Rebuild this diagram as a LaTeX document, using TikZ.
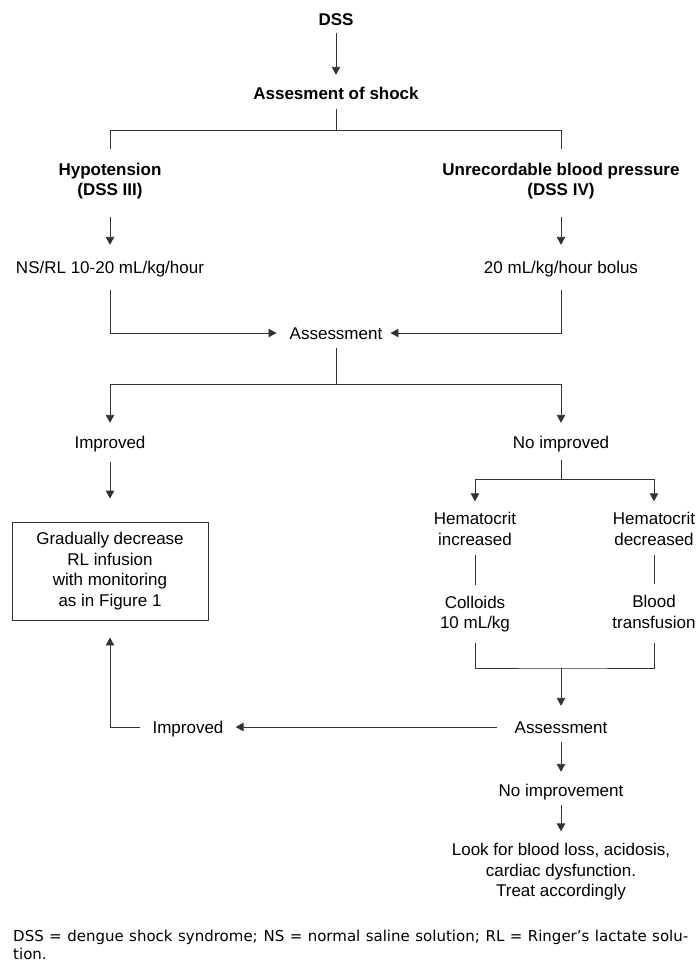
\documentclass[tikz,border=0pt]{standalone}
\usepackage{fontspec}
\setmainfont{Liberation Sans}
\newfontfamily\notefont{DejaVu Sans}
\usetikzlibrary{arrows.meta}

\begin{document}
\begin{tikzpicture}[
    x=1pt, y=-1pt,
    txt/.style={inner sep=0pt, text height=12pt, text depth=0pt, font=\fontsize{17}{20.5}\selectfont},
    btxt/.style={txt, font=\fontsize{17}{20.5}\selectfont\bfseries},
    multi/.style={inner sep=0pt, align=center, font=\fontsize{17}{20.5}\selectfont},
    bmulti/.style={multi, font=\fontsize{17}{20.5}\selectfont\bfseries},
    boxed/.style={multi, draw=black!80, line width=0.9pt, minimum width=196pt, minimum height=98pt},
    line/.style={draw=black!80, line width=0.9pt},
    arr/.style={line, -{Triangle[length=8pt, width=8.5pt]}}
]
    % Define columns
    \def\colL{110}
    \def\colM{336}
    \def\colR{561}

    \useasboundingbox (0,0) rectangle (698,962);

    % Shock assessment
    \node[btxt] (dss) at (\colM,19) {DSS};
    \node[btxt] (shock) at (\colM,93) {Assesment of shock};
    \node[bmulti] (hypo) at (\colL,181) {Hypotension\\(DSS III)};
    \node[bmulti] (unrec) at (\colR,181) {Unrecordable blood pressure\\(DSS IV)};
    \node[txt] (ns) at (\colL,267) {NS/RL 10-20 mL/kg/hour};
    \node[txt] (bolus) at (\colR,267) {20 mL/kg/hour bolus};
    \node[txt] (assess1) at (\colM,333) {Assessment};

    % Response
    \node[txt] (impr1) at (\colL,442) {Improved};
    \node[txt] (noimpr) at (\colR,442) {No improved};
    \node[boxed] (box) at (\colL,571) {Gradually decrease\\RL infusion\\with monitoring\\as in Figure 1};
    \node[multi] (hup) at (475,529) {Hematocrit\\increased};
    \node[multi] (hdown) at (654,529) {Hematocrit\\decreased};
    \node[multi] (coll) at (475,614) {Colloids\\10 mL/kg};
    \node[multi] (blood) at (654,612) {Blood\\transfusion};
    \node[txt] (assess2) at (\colR,727) {Assessment};
    \node[txt] (impr2) at (188,727) {Improved};
    \node[txt] (noimpt) at (\colR,790) {No improvement};
    \node[multi] (look) at (\colR,872) {Look for blood loss, acidosis,\\cardiac dysfunction.\\Treat accordingly};

    % Branch points
    \coordinate (fork1) at (\colM,130);
    \coordinate (fork2) at (\colM,384);
    \coordinate (fork3) at (\colR,479);
    \coordinate (fork4) at (\colR,668);

    % Connectors
    \draw[arr, shorten <=8pt, shorten >=12pt] (dss) -- (shock);
    \draw[line, shorten <=10pt, shorten >=14pt] (shock) -- (fork1) -| (hypo);
    \draw[line, shorten >=14pt] (fork1) -| (unrec);
    \draw[arr, shorten <=18pt, shorten >=16pt] (hypo) -- (ns);
    \draw[arr, shorten <=18pt, shorten >=16pt] (unrec) -- (bolus);
    \draw[arr, shorten <=17pt, shorten >=13pt] (ns) |- (assess1);
    \draw[arr, shorten <=17pt, shorten >=8pt] (bolus) |- (assess1);
    \draw[line, shorten <=9pt] (assess1) -- (fork2);
    \draw[arr, shorten >=13pt] (fork2) -| (impr1);
    \draw[arr, shorten >=13pt] (fork2) -| (noimpr);
    \draw[arr, shorten <=14pt, shorten >=23pt] (impr1) -- (box);
    \draw[line, shorten <=12pt] (noimpr) -- (fork3);
    \draw[arr, shorten >=11pt] (fork3) -| (hup);
    \draw[arr, shorten >=11pt] (fork3) -| (hdown);
    \draw[line, shorten <=9.5pt, shorten >=11pt] (hup) -- (coll);
    \draw[line, shorten <=9.5pt, shorten >=11pt] (hdown) -- (blood);
    \draw[line, shorten <=11pt, shorten >=14.5pt] (coll) |- (fork4) -| (blood);
    \draw[arr, shorten >=15pt] (fork4) -- (assess2);
    \draw[arr, shorten <=18pt, shorten >=12pt] (assess2) -- (impr2);
    \draw[arr, shorten <=12.5pt, shorten >=17pt] (impr2) -| (box);
    \draw[arr, shorten <=9pt, shorten >=12pt] (assess2) -- (noimpt);
    \draw[arr, shorten <=9pt, shorten >=12pt] (noimpt) -- (look);

    % Footnote
    \node[anchor=north west, inner sep=0pt, align=left, font=\notefont\fontsize{15}{18}\selectfont] (note) at (13,929.6)
        {\makebox[675pt][s]{DSS = dengue shock syndrome; NS = normal saline solution; RL = Ringer’s lactate solu-}\\tion.};

\end{tikzpicture}
\end{document}
